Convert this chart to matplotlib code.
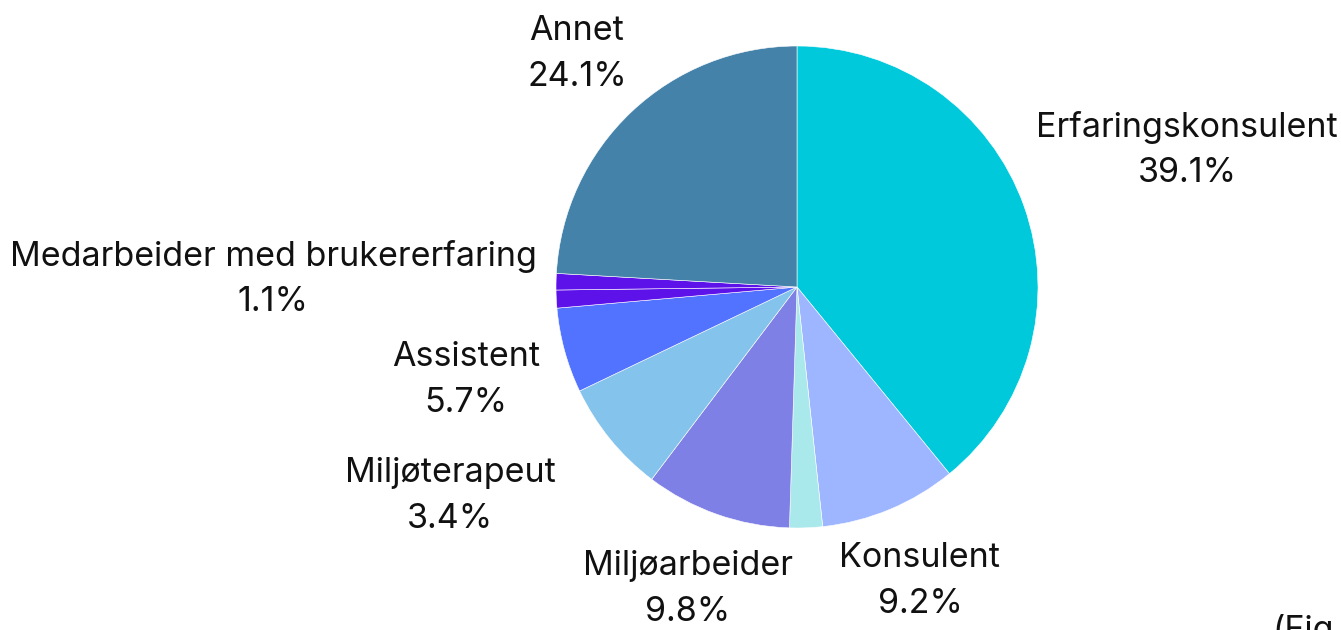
import matplotlib
matplotlib.use("Agg")
from matplotlib import pyplot as plt

plt.rcParams['font.family'] = ['Inter', 'DejaVu Sans']

# slices, clockwise from 12 o'clock
shares = [39.1, 9.2, 2.2, 9.8, 7.6, 5.7, 1.2, 1.1, 24.1]
colors = ['#00C9DC', '#9DB6FF', '#A9E9EC', '#7F80E6', '#84C3EC',
          '#5273FF', '#5E12EA', '#5E12EA', '#4482AA']

# visible labels
label_names = ['Erfaringskonsulent', 'Konsulent', 'Miljøarbeider', 'Miljøterapeut',
               'Assistent', 'Medarbeider med brukererfaring', 'Annet']
label_pcts = ['39.1%', '9.2%', '9.8%', '3.4%', '5.7%', '1.1%', '24.1%']
# label centres in pixels (x, y from top)
label_pos = [(1187, 150), (920, 581), (688, 589), (450, 496),
             (466, 380), (273, 279), (577, 54)]

W, H = 1341, 630
cx, cy, R = 797, 287, 241

fig = plt.figure(figsize=(W / 100, H / 100), dpi=100)
ax = fig.add_axes([0, 0, 1, 1])
ax.axis('off')

ax.pie(shares, colors=colors, startangle=90, counterclock=False, radius=1,
       wedgeprops=dict(edgecolor='white', linewidth=0.4))
ax.set_aspect('auto')
ax.set_xlim(-cx / R, (W - cx) / R)
ax.set_ylim((cy - H) / R, cy / R)

for name, pct, (px, py) in zip(label_names, label_pcts, label_pos):
    ax.text((px - cx) / R, (cy - py) / R, name + '\n' + pct, ha='center', va='center',
            fontsize=24.5, linespacing=1.55, color='#111111')

ax.text((1272 - cx) / R, (cy - 614) / R, '(Fig', ha='left', va='top',
        fontsize=24.5, color='#111111')

fig.savefig('out.png', dpi=100)
